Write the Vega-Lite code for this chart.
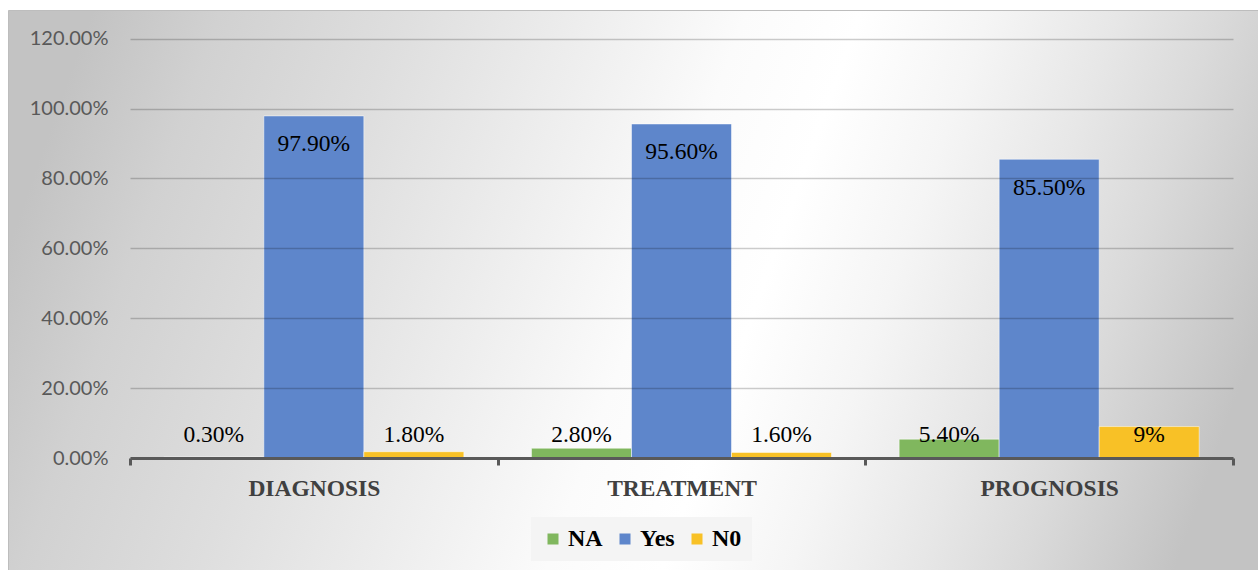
{
  "$schema": "https://vega.github.io/schema/vega-lite/v6.json",
  "width": 1250,
  "height": 560,
  "padding": {"left": 8, "top": 10, "right": 0, "bottom": 0},
  "autosize": {"type": "none"},
  "background": "#ffffff",
  "view": {
    "fill": {
      "gradient": "linear",
      "x1": 0, "y1": 0.42, "x2": 1, "y2": 0.58,
      "stops": [
        {"offset": 0, "color": "#c3c3c3"},
        {"offset": 0.1, "color": "#d1d1d1"},
        {"offset": 0.24, "color": "#dedede"},
        {"offset": 0.39, "color": "#eeeeee"},
        {"offset": 0.51, "color": "#fbfbfb"},
        {"offset": 0.6, "color": "#ffffff"},
        {"offset": 0.7, "color": "#f5f5f5"},
        {"offset": 0.8, "color": "#e7e7e7"},
        {"offset": 0.88, "color": "#dadada"},
        {"offset": 1, "color": "#c3c3c3"}
      ]
    },
    "stroke": "#bdbdbd",
    "strokeWidth": 1
  },
  "data": {
    "values": [
      {"category": "DIAGNOSIS", "response": "NA", "value": 0.003, "label": "0.30%"},
      {"category": "DIAGNOSIS", "response": "Yes", "value": 0.979, "label": "97.90%"},
      {"category": "DIAGNOSIS", "response": "N0", "value": 0.018, "label": "1.80%"},
      {"category": "TREATMENT", "response": "NA", "value": 0.028, "label": "2.80%"},
      {"category": "TREATMENT", "response": "Yes", "value": 0.956, "label": "95.60%"},
      {"category": "TREATMENT", "response": "N0", "value": 0.016, "label": "1.60%"},
      {"category": "PROGNOSIS", "response": "NA", "value": 0.054, "label": "5.40%"},
      {"category": "PROGNOSIS", "response": "Yes", "value": 0.855, "label": "85.50%"},
      {"category": "PROGNOSIS", "response": "N0", "value": 0.09, "label": "9%"}
    ]
  },
  "encoding": {
    "x": {
      "field": "category",
      "type": "nominal",
      "sort": ["DIAGNOSIS", "TREATMENT", "PROGNOSIS"],
      "scale": {"range": [122, 1225], "paddingInner": 0, "paddingOuter": 0},
      "axis": {
        "title": null,
        "offset": -112,
        "labelAngle": 0,
        "domainColor": "#595959",
        "domainWidth": 3,
        "tickColor": "#595959",
        "tickWidth": 3,
        "tickSize": 7,
        "tickBand": "extent",
        "labelFont": "Liberation Serif",
        "labelFontSize": 23.5,
        "labelFontWeight": "bold",
        "labelColor": "#404040",
        "labelPadding": 11,
        "zindex": 1
      }
    },
    "xOffset": {
      "field": "response",
      "type": "nominal",
      "sort": ["NA", "Yes", "N0"],
      "scale": {"paddingInner": 0, "paddingOuter": 0.338}
    }
  },
  "layer": [
    {
      "mark": {"type": "bar", "stroke": "#ffffff", "strokeOpacity": 0.5, "strokeWidth": 1},
      "encoding": {
        "y": {
          "field": "value",
          "type": "quantitative",
          "scale": {"domain": [0, 1.2], "range": [448, 28.7], "nice": false, "zero": true},
          "axis": {
            "title": null,
            "offset": -122,
            "values": [0, 0.2, 0.4, 0.6, 0.8, 1, 1.2],
            "format": ".2%",
            "domain": false,
            "ticks": false,
            "tickSize": 0,
            "labelPadding": 22,
            "labelFont": "Lato",
            "labelFontSize": 20,
            "labelColor": "#595959",
            "grid": true,
            "gridColor": "#000000",
            "gridOpacity": 0.2,
            "gridWidth": 1.3,
            "zindex": 1
          }
        },
        "color": {
          "field": "response",
          "type": "nominal",
          "scale": {"domain": ["NA", "Yes", "N0"], "range": ["#80b75e", "#5e86cb", "#f8c126"]},
          "legend": {
            "title": null,
            "orient": "none",
            "legendX": 523,
            "legendY": 507,
            "direction": "horizontal",
            "symbolType": "square",
            "symbolSize": 121,
            "symbolStrokeWidth": 0,
            "symbolOpacity": 1,
            "labelFont": "Liberation Serif",
            "labelFontSize": 24,
            "labelFontWeight": "bold",
            "labelColor": "#000000",
            "labelOffset": 3,
            "columnPadding": 10,
            "fillColor": "#f4f4f4",
            "padding": 10
          }
        }
      }
    },
    {
      "transform": [{"filter": "datum.response === 'Yes'"}],
      "mark": {"type": "text", "font": "Liberation Serif", "fontSize": 23.5, "color": "#000000", "baseline": "alphabetic", "dy": 35.5},
      "encoding": {
        "y": {"field": "value", "type": "quantitative"},
        "text": {"field": "label", "type": "nominal"}
      }
    },
    {
      "transform": [{"filter": "datum.response !== 'Yes'"}],
      "mark": {"type": "text", "font": "Liberation Serif", "fontSize": 23.5, "color": "#000000", "baseline": "alphabetic", "dy": -16.3},
      "encoding": {
        "y": {"datum": 0, "type": "quantitative"},
        "text": {"field": "label", "type": "nominal"}
      }
    }
  ]
}
